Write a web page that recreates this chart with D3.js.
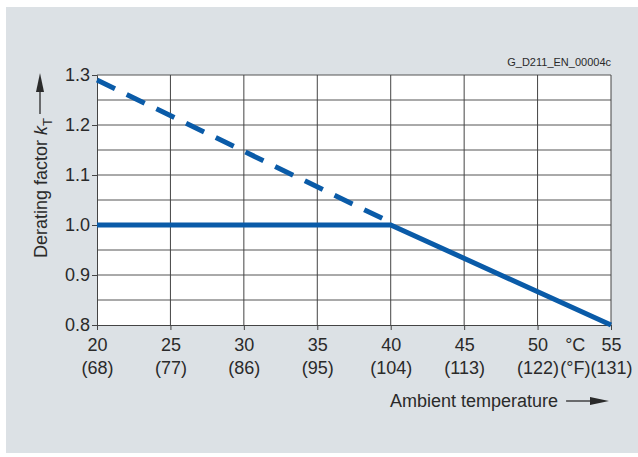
<!DOCTYPE html>
<html><head><meta charset="utf-8">
<script src="https://cdn.jsdelivr.net/npm/d3@7"></script>
<style>body{margin:0;background:#fff}svg{display:block;font-family:"Liberation Sans",Arial,sans-serif}</style>
</head><body><svg id="c" width="638" height="457"></svg>
<script>
const xTicks = [20, 25, 30, 35, 40, 45, 50, 55];
const xTicksF = ["(68)", "(77)", "(86)", "(95)", "(104)", "(113)", "(122)", "(131)"];
const yTicks = [0.8, 0.9, 1.0, 1.1, 1.2, 1.3];
const yGrid = [0.85, 0.9, 0.95, 1.0, 1.05, 1.1, 1.15, 1.2, 1.25, 1.3];
const solidTemp = [20, 40, 55];
const solidK = [1.0, 1.0, 0.8];
const dashTemp = [20, 40];
const dashK = [1.29, 1.005];

const FS = 18, TXT = "#2a2a2a", FF = "Liberation Sans, Arial, sans-serif";
const svg = d3.select("#c");
const blue = "#0a5ba8";
svg.append("rect").attr("x",6).attr("y",7).attr("width",632).attr("height",446).attr("fill","#dce1e5");

const x = d3.scaleLinear().domain([20,55]).range([97,611]);
const y = d3.scaleLinear().domain([0.8,1.3]).range([325,75]);

svg.append("rect").attr("x",x(20)).attr("y",y(1.3)).attr("width",x(55)-x(20)).attr("height",y(0.8)-y(1.3)).attr("fill","#fff");

const g = svg.append("g");
g.selectAll(".hg").data(yGrid).join("line")
 .attr("x1",x(20)).attr("x2",x(55)).attr("y1",d=>y(d)).attr("y2",d=>y(d))
 .attr("stroke","#555").attr("stroke-width",1);
g.selectAll(".vg").data(xTicks.slice(1)).join("line")
 .attr("x1",d=>x(d)).attr("x2",d=>x(d)).attr("y1",y(1.3)).attr("y2",y(0.8))
 .attr("stroke","#444").attr("stroke-width",1);

// axes
const ya = d3.axisLeft(y).tickValues(yTicks).tickSize(5).tickFormat(d3.format(".1f"));
const yg = svg.append("g").attr("transform",`translate(${x(20)},0)`).call(ya);
yg.select(".domain").attr("stroke","#444");
yg.selectAll(".tick line").attr("stroke","#444");
yg.selectAll(".tick text").attr("font-size",FS).attr("fill",TXT).attr("x",-7).attr("font-family",FF);

const xa = d3.axisBottom(x).tickValues(xTicks).tickSize(5).tickFormat(d=>d);
const xg = svg.append("g").attr("transform",`translate(0,${y(0.8)})`).call(xa);
xg.select(".domain").attr("stroke","#444");
xg.selectAll(".tick line").attr("stroke","#444");
xg.selectAll(".tick text").attr("font-size",FS).attr("fill",TXT).attr("y",13).attr("font-family",FF);
xg.selectAll(".tick").append("text").text((d,i)=>xTicksF[i])
 .attr("y",36).attr("dy","0.71em").attr("fill",TXT).attr("font-size",FS).attr("text-anchor","middle")
 .attr("font-family",FF);

const mid = (x(50)+x(55))/2+1;
svg.append("text").attr("x",mid).attr("y",y(0.8)+13).attr("dy","0.71em").attr("text-anchor","middle")
 .attr("font-size",FS).attr("fill",TXT).text("°C");
svg.append("text").attr("x",mid).attr("y",y(0.8)+36).attr("dy","0.71em").attr("text-anchor","middle")
 .attr("font-size",FS).attr("fill",TXT).text("(°F)");

// lines
const line = d3.line().x(d=>x(d[0])).y(d=>y(d[1]));
svg.append("path").datum(dashTemp.map((t,i)=>[t,dashK[i]])).attr("d",line)
 .attr("fill","none").attr("stroke",blue).attr("stroke-width",5).attr("stroke-dasharray","20,13");
svg.append("path").datum(solidTemp.map((t,i)=>[t,solidK[i]])).attr("d",line)
 .attr("fill","none").attr("stroke",blue).attr("stroke-width",5).attr("stroke-linejoin","miter");

// x label
const xl = svg.append("text").attr("x",390).attr("y",407).attr("font-size",FS).attr("fill",TXT).text("Ambient temperature");
const xlw = xl.node().getComputedTextLength();
svg.append("line").attr("x1",390+xlw+8).attr("x2",594).attr("y1",401).attr("y2",401).attr("stroke",TXT).attr("stroke-width",1.3);
svg.append("path").attr("d","M590,397 L609,401 L590,405 Z").attr("fill",TXT);

// y label
const yl = svg.append("g").attr("transform","translate(47,258) rotate(-90)");
const t = yl.append("text").attr("x",0).attr("y",0).attr("font-size",FS).attr("fill",TXT);
t.append("tspan").text("Derating factor ");
t.append("tspan").attr("font-style","italic").text("k");
t.append("tspan").attr("font-size",13).attr("dy",5).text("T");
const tw = t.node().getComputedTextLength();
yl.append("line").attr("x1",tw+4).attr("x2",tw+30).attr("y1",-7).attr("y2",-7).attr("stroke",TXT).attr("stroke-width",1.3);
yl.append("path").attr("d",`M${tw+26},-11 L${tw+45},-7 L${tw+26},-3 Z`).attr("fill",TXT);

svg.append("text").attr("x",611).attr("y",66).attr("text-anchor","end").attr("font-size",11).attr("fill",TXT).text("G_D211_EN_00004c");
</script></body></html>
